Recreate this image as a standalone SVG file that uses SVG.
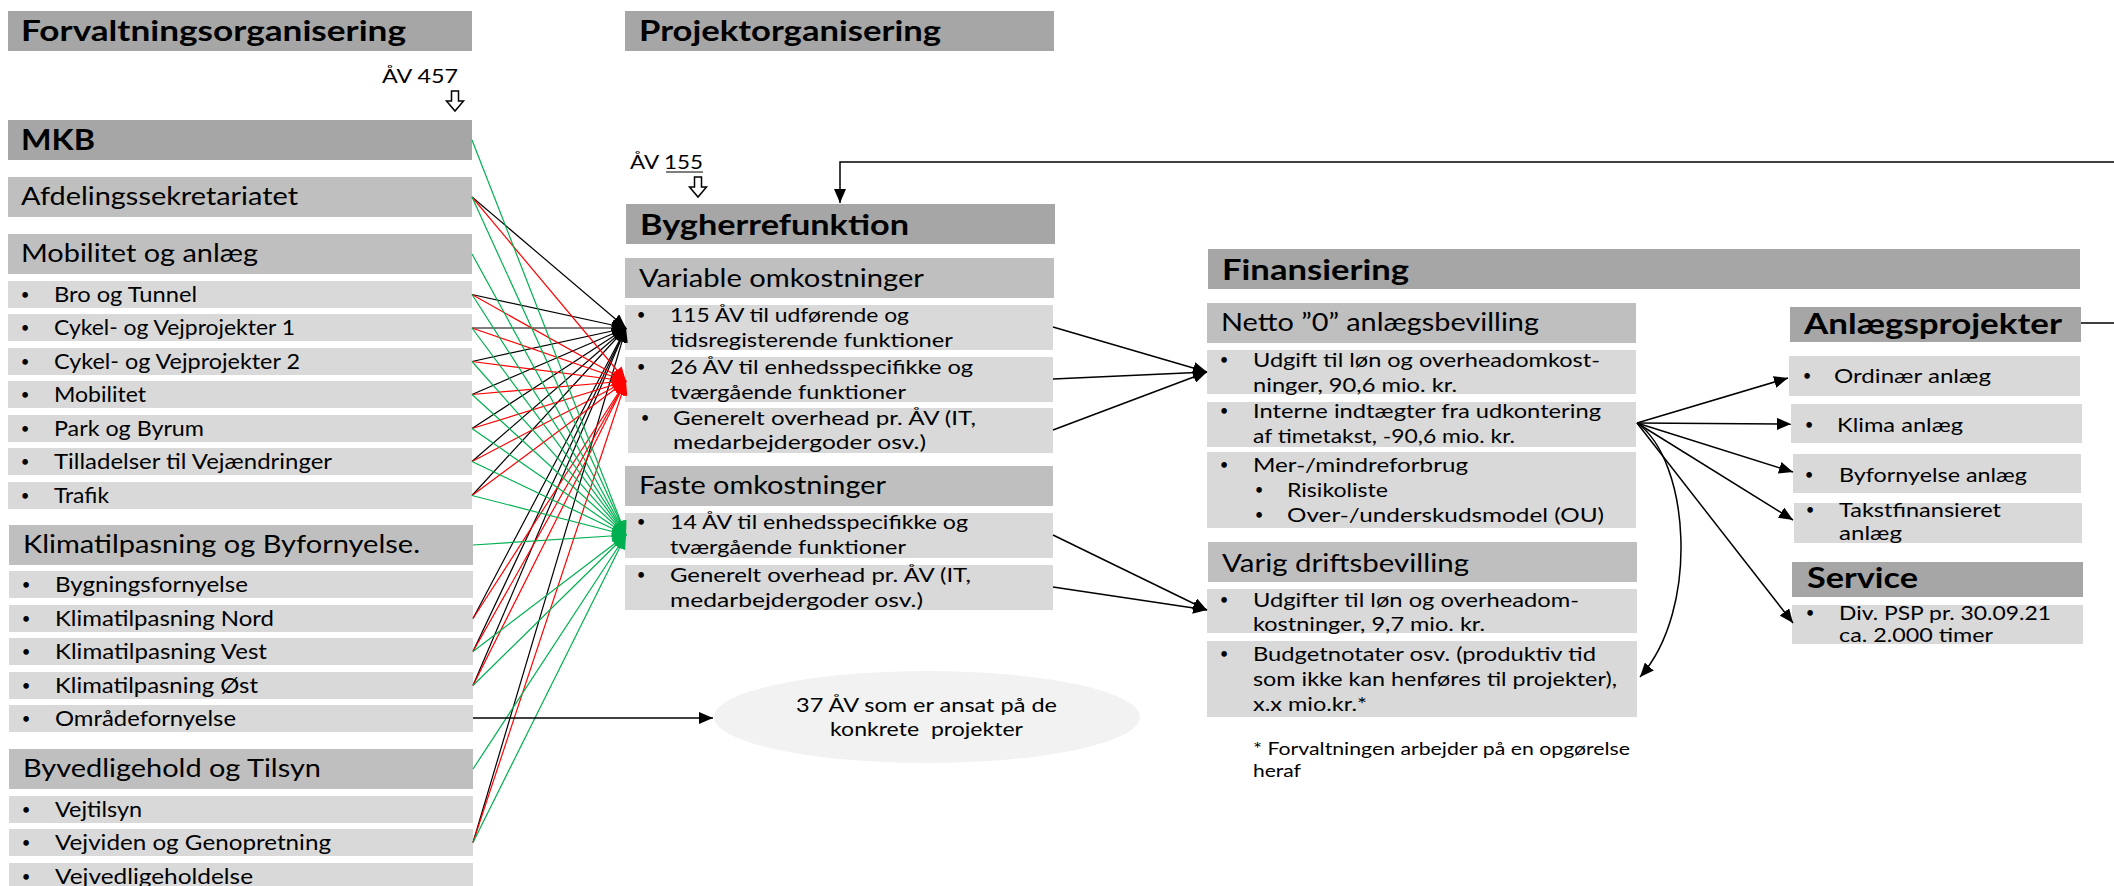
<svg xmlns="http://www.w3.org/2000/svg" width="2114" height="886" viewBox="0 0 2114 886">
<defs>
<style>
text{font-family:Lato,"Liberation Sans",sans-serif;fill:#000}
.h1{font-size:28px;font-weight:bold}
.h2{font-size:25px}
.it{font-size:21px}
.im{font-size:20px}
.sm{font-size:17px}
.b{font-size:15px;text-anchor:middle}
.d{fill:#a6a6a6}
.m{fill:#bfbfbf}
.l{fill:#d9d9d9}
.k{stroke:#000;stroke-width:1.2;fill:none}
.r{stroke:#ff0000;stroke-width:1.2;fill:none}
.g{stroke:#00b050;stroke-width:1.2;fill:none}
.c{stroke:#000;stroke-width:1.5;fill:none}
.ha{fill:#fff;stroke:#000;stroke-width:1.5}
</style>
<marker id="ak" viewBox="0 0 14 12" refX="14" refY="6" markerWidth="14" markerHeight="12" markerUnits="userSpaceOnUse" orient="auto"><path d="M0,0 L14,6 L0,12 z" fill="#000"/></marker>
<marker id="ar" viewBox="0 0 14 12" refX="14" refY="6" markerWidth="14" markerHeight="12" markerUnits="userSpaceOnUse" orient="auto"><path d="M0,0 L14,6 L0,12 z" fill="#ff0000"/></marker>
<marker id="ag" viewBox="0 0 14 12" refX="14" refY="6" markerWidth="14" markerHeight="12" markerUnits="userSpaceOnUse" orient="auto"><path d="M0,0 L14,6 L0,12 z" fill="#00b050"/></marker>
</defs>
<rect width="2114" height="886" fill="#fff"/>

<!-- Left column -->
<g id="forvaltning-header"><rect class="d" x="8" y="11" width="464" height="40"/><text class="h1" x="21" y="41" textLength="385" lengthAdjust="spacingAndGlyphs">Forvaltningsorganisering</text></g>
<g id="av457"><text class="im" x="382" y="83" textLength="76" lengthAdjust="spacingAndGlyphs">ÅV 457</text><path class="ha" d="M451.5,91 H458.5 V101 H463.5 L455,111 L446.5,101 H451.5 Z"/></g>
<g id="mkb"><rect class="d" x="8" y="120" width="464" height="40"/><text class="h1" x="21" y="150" textLength="74" lengthAdjust="spacingAndGlyphs">MKB</text></g>
<g id="afdeling"><rect class="m" x="8" y="177" width="464" height="40"/><text class="h2" x="21" y="205" textLength="277" lengthAdjust="spacingAndGlyphs">Afdelingssekretariatet</text></g>
<g id="mobilitet-anlaeg"><rect class="m" x="8" y="234" width="464" height="40"/><text class="h2" x="21" y="262" textLength="237" lengthAdjust="spacingAndGlyphs">Mobilitet og anlæg</text></g>
<g id="bro"><rect class="l" x="8" y="281" width="464" height="27"/><text class="b" x="25" y="300">•</text><text class="it" x="54" y="302" textLength="143" lengthAdjust="spacingAndGlyphs">Bro og Tunnel</text></g>
<g id="cykel1"><rect class="l" x="8" y="314" width="464" height="27"/><text class="b" x="25" y="333">•</text><text class="it" x="54" y="335" textLength="241" lengthAdjust="spacingAndGlyphs">Cykel- og Vejprojekter 1</text></g>
<g id="cykel2"><rect class="l" x="8" y="348" width="464" height="27"/><text class="b" x="25" y="367">•</text><text class="it" x="54" y="369" textLength="246" lengthAdjust="spacingAndGlyphs">Cykel- og Vejprojekter 2</text></g>
<g id="mobilitet"><rect class="l" x="8" y="381" width="464" height="27"/><text class="b" x="25" y="400">•</text><text class="it" x="54" y="402" textLength="92" lengthAdjust="spacingAndGlyphs">Mobilitet</text></g>
<g id="park"><rect class="l" x="8" y="415" width="464" height="27"/><text class="b" x="25" y="434">•</text><text class="it" x="54" y="436" textLength="150" lengthAdjust="spacingAndGlyphs">Park og Byrum</text></g>
<g id="tilladelser"><rect class="l" x="8" y="448" width="464" height="27"/><text class="b" x="25" y="467">•</text><text class="it" x="54" y="469" textLength="278" lengthAdjust="spacingAndGlyphs">Tilladelser til Vejændringer</text></g>
<g id="trafik"><rect class="l" x="8" y="482" width="464" height="27"/><text class="b" x="25" y="501">•</text><text class="it" x="54" y="503" textLength="55" lengthAdjust="spacingAndGlyphs">Trafik</text></g>
<g id="klima-header"><rect class="m" x="9" y="525" width="464" height="40"/><text class="h2" x="23" y="553" textLength="397" lengthAdjust="spacingAndGlyphs">Klimatilpasning og Byfornyelse.</text></g>
<g id="bygning"><rect class="l" x="9" y="571" width="464" height="27"/><text class="b" x="26" y="590">•</text><text class="it" x="55" y="592" textLength="193" lengthAdjust="spacingAndGlyphs">Bygningsfornyelse</text></g>
<g id="klim-nord"><rect class="l" x="9" y="605" width="464" height="27"/><text class="b" x="26" y="624">•</text><text class="it" x="55" y="626" textLength="219" lengthAdjust="spacingAndGlyphs">Klimatilpasning Nord</text></g>
<g id="klim-vest"><rect class="l" x="9" y="638" width="464" height="27"/><text class="b" x="26" y="657">•</text><text class="it" x="55" y="659" textLength="212" lengthAdjust="spacingAndGlyphs">Klimatilpasning Vest</text></g>
<g id="klim-oest"><rect class="l" x="9" y="672" width="464" height="27"/><text class="b" x="26" y="691">•</text><text class="it" x="55" y="693" textLength="203" lengthAdjust="spacingAndGlyphs">Klimatilpasning Øst</text></g>
<g id="omraade"><rect class="l" x="9" y="705" width="464" height="27"/><text class="b" x="26" y="724">•</text><text class="it" x="55" y="726" textLength="181" lengthAdjust="spacingAndGlyphs">Områdefornyelse</text></g>
<g id="byvedligehold-header"><rect class="m" x="9" y="749" width="464" height="40"/><text class="h2" x="23" y="777" textLength="298" lengthAdjust="spacingAndGlyphs">Byvedligehold og Tilsyn</text></g>
<g id="vejtilsyn"><rect class="l" x="9" y="796" width="464" height="27"/><text class="b" x="26" y="815">•</text><text class="it" x="55" y="817" textLength="87" lengthAdjust="spacingAndGlyphs">Vejtilsyn</text></g>
<g id="vejviden"><rect class="l" x="9" y="829" width="464" height="27"/><text class="b" x="26" y="848">•</text><text class="it" x="55" y="850" textLength="276" lengthAdjust="spacingAndGlyphs">Vejviden og Genopretning</text></g>
<g id="vejvedligehold"><rect class="l" x="9" y="863" width="464" height="27"/><text class="b" x="26" y="882">•</text><text class="it" x="55" y="884" textLength="198" lengthAdjust="spacingAndGlyphs">Vejvedligeholdelse</text></g>

<!-- Middle column -->
<g id="projekt-header"><rect class="d" x="625" y="11" width="429" height="40"/><text class="h1" x="639" y="41" textLength="302" lengthAdjust="spacingAndGlyphs">Projektorganisering</text></g>
<g id="av155"><text class="im" x="630" y="169" textLength="73" lengthAdjust="spacingAndGlyphs">ÅV 155</text><line x1="666" y1="172" x2="703" y2="172" stroke="#000" stroke-width="1.2"/><path class="ha" d="M694.5,177 H701.5 V187 H706.5 L698,197 L689.5,187 H694.5 Z"/></g>
<g id="bygherre"><rect class="d" x="626" y="204" width="429" height="40"/><text class="h1" x="640" y="235" textLength="269" lengthAdjust="spacingAndGlyphs">Bygherrefunktion</text></g>
<g id="variable"><rect class="m" x="625" y="258" width="429" height="40"/><text class="h2" x="639" y="287" textLength="285" lengthAdjust="spacingAndGlyphs">Variable omkostninger</text></g>
<g id="v115"><rect class="l" x="625" y="305" width="428" height="45"/><text class="b" x="641" y="320">•</text><text class="im" x="670" y="322" textLength="239" lengthAdjust="spacingAndGlyphs">115 ÅV til udførende og</text><text class="im" x="670" y="347" textLength="283" lengthAdjust="spacingAndGlyphs">tidsregisterende funktioner</text></g>
<g id="v26"><rect class="l" x="625" y="357" width="428" height="45"/><text class="b" x="641" y="372">•</text><text class="im" x="670" y="374" textLength="303" lengthAdjust="spacingAndGlyphs">26 ÅV til enhedsspecifikke og</text><text class="im" x="670" y="399" textLength="236" lengthAdjust="spacingAndGlyphs">tværgående funktioner</text></g>
<g id="v-overhead"><rect class="l" x="628" y="408" width="425" height="45"/><text class="b" x="645" y="423">•</text><text class="im" x="673" y="425" textLength="303" lengthAdjust="spacingAndGlyphs">Generelt overhead pr. ÅV (IT,</text><text class="im" x="673" y="449" textLength="253" lengthAdjust="spacingAndGlyphs">medarbejdergoder osv.)</text></g>
<g id="faste"><rect class="m" x="625" y="466" width="428" height="40"/><text class="h2" x="639" y="494" textLength="247" lengthAdjust="spacingAndGlyphs">Faste omkostninger</text></g>
<g id="f14"><rect class="l" x="625" y="513" width="428" height="45"/><text class="b" x="641" y="527">•</text><text class="im" x="670" y="529" textLength="298" lengthAdjust="spacingAndGlyphs">14 ÅV til enhedsspecifikke og</text><text class="im" x="670" y="554" textLength="236" lengthAdjust="spacingAndGlyphs">tværgående funktioner</text></g>
<g id="f-overhead"><rect class="l" x="625" y="565" width="428" height="45"/><text class="b" x="641" y="580">•</text><text class="im" x="670" y="582" textLength="301" lengthAdjust="spacingAndGlyphs">Generelt overhead pr. ÅV (IT,</text><text class="im" x="670" y="607" textLength="253" lengthAdjust="spacingAndGlyphs">medarbejdergoder osv.)</text></g>
<g id="projekter37"><ellipse cx="927" cy="717" rx="213" ry="46" fill="#f2f2f2"/><text class="im" x="796" y="712" textLength="261" lengthAdjust="spacingAndGlyphs">37 ÅV som er ansat på de</text><text class="im" x="830" y="736" textLength="193" lengthAdjust="spacingAndGlyphs" xml:space="preserve">konkrete  projekter</text></g>

<!-- Finansiering -->
<g id="finansiering"><rect class="d" x="1208" y="249" width="872" height="40"/><text class="h1" x="1222" y="280" textLength="187" lengthAdjust="spacingAndGlyphs">Finansiering</text></g>
<g id="netto"><rect class="m" x="1207" y="303" width="429" height="40"/><text class="h2" x="1221" y="331" textLength="318" lengthAdjust="spacingAndGlyphs">Netto ”0” anlægsbevilling</text></g>
<g id="udgift"><rect class="l" x="1207" y="350" width="429" height="44"/><text class="b" x="1224" y="365">•</text><text class="im" x="1253" y="367" textLength="347" lengthAdjust="spacingAndGlyphs">Udgift til løn og overheadomkost-</text><text class="im" x="1253" y="392" textLength="204" lengthAdjust="spacingAndGlyphs">ninger, 90,6 mio. kr.</text></g>
<g id="interne"><rect class="l" x="1207" y="402" width="429" height="45"/><text class="b" x="1224" y="416">•</text><text class="im" x="1253" y="418" textLength="348" lengthAdjust="spacingAndGlyphs">Interne indtægter fra udkontering</text><text class="im" x="1253" y="443" textLength="262" lengthAdjust="spacingAndGlyphs">af timetakst, -90,6 mio. kr.</text></g>
<g id="merforbrug"><rect class="l" x="1207" y="452" width="429" height="76"/><text class="b" x="1224" y="470">•</text><text class="im" x="1253" y="472" textLength="215" lengthAdjust="spacingAndGlyphs">Mer-/mindreforbrug</text><text class="b" x="1259" y="495">•</text><text class="im" x="1287" y="497" textLength="101" lengthAdjust="spacingAndGlyphs">Risikoliste</text><text class="b" x="1259" y="520">•</text><text class="im" x="1287" y="522" textLength="317" lengthAdjust="spacingAndGlyphs">Over-/underskudsmodel (OU)</text></g>
<g id="varig"><rect class="m" x="1208" y="542" width="429" height="40"/><text class="h2" x="1222" y="572" textLength="247" lengthAdjust="spacingAndGlyphs">Varig driftsbevilling</text></g>
<g id="udgifter"><rect class="l" x="1207" y="589" width="430" height="44"/><text class="b" x="1224" y="605">•</text><text class="im" x="1253" y="607" textLength="326" lengthAdjust="spacingAndGlyphs">Udgifter til løn og overheadom-</text><text class="im" x="1253" y="631" textLength="232" lengthAdjust="spacingAndGlyphs">kostninger, 9,7 mio. kr.</text></g>
<g id="budget"><rect class="l" x="1207" y="641" width="430" height="76"/><text class="b" x="1224" y="659">•</text><text class="im" x="1253" y="661" textLength="343" lengthAdjust="spacingAndGlyphs">Budgetnotater osv. (produktiv tid</text><text class="im" x="1253" y="686" textLength="364" lengthAdjust="spacingAndGlyphs">som ikke kan henføres til projekter),</text><text class="im" x="1253" y="711" textLength="114" lengthAdjust="spacingAndGlyphs">x.x mio.kr.*</text></g>
<g id="footnote"><text class="sm" x="1253" y="755" textLength="377" lengthAdjust="spacingAndGlyphs">* Forvaltningen arbejder på en opgørelse</text><text class="sm" x="1253" y="777" textLength="48" lengthAdjust="spacingAndGlyphs">heraf</text></g>

<!-- Right column -->
<g id="anlaegsprojekter"><rect class="d" x="1790" y="307" width="291" height="35"/><text class="h1" x="1804" y="334" textLength="258" lengthAdjust="spacingAndGlyphs">Anlægsprojekter</text></g>
<g id="ordinaer"><rect class="l" x="1789" y="356" width="291" height="40"/><text class="b" x="1807" y="381">•</text><text class="im" x="1834" y="383" textLength="157" lengthAdjust="spacingAndGlyphs">Ordinær anlæg</text></g>
<g id="klima-anlaeg"><rect class="l" x="1791" y="404" width="291" height="39"/><text class="b" x="1809" y="430">•</text><text class="im" x="1837" y="432" textLength="126" lengthAdjust="spacingAndGlyphs">Klima anlæg</text></g>
<g id="byfornyelse-anlaeg"><rect class="l" x="1793" y="454" width="288" height="39"/><text class="b" x="1809" y="480">•</text><text class="im" x="1839" y="482" textLength="188" lengthAdjust="spacingAndGlyphs">Byfornyelse anlæg</text></g>
<g id="takst"><rect class="l" x="1794" y="503" width="288" height="40"/><text class="b" x="1810" y="515">•</text><text class="im" x="1839" y="517" textLength="162" lengthAdjust="spacingAndGlyphs">Takstfinansieret</text><text class="im" x="1839" y="540" textLength="63" lengthAdjust="spacingAndGlyphs">anlæg</text></g>
<g id="service"><rect class="d" x="1792" y="562" width="291" height="35"/><text class="h1" x="1807" y="588" textLength="111" lengthAdjust="spacingAndGlyphs">Service</text></g>
<g id="psp"><rect class="l" x="1792" y="605" width="291" height="39"/><text class="b" x="1810" y="618">•</text><text class="im" x="1839" y="620" textLength="212" lengthAdjust="spacingAndGlyphs">Div. PSP pr. 30.09.21</text><text class="im" x="1839" y="642" textLength="154" lengthAdjust="spacingAndGlyphs">ca. 2.000 timer</text></g>

<!-- Connectors -->
<g id="connectors">
<line class="k" marker-end="url(#ak)" x1="472" y1="197" x2="626" y2="328"/>
<line class="k" marker-end="url(#ak)" x1="472" y1="294.5" x2="626" y2="328"/>
<line class="k" marker-end="url(#ak)" x1="472" y1="328" x2="626" y2="328"/>
<line class="k" marker-end="url(#ak)" x1="472" y1="361.5" x2="626" y2="328"/>
<line class="k" marker-end="url(#ak)" x1="472" y1="394.5" x2="626" y2="328"/>
<line class="k" marker-end="url(#ak)" x1="472" y1="428.5" x2="626" y2="328"/>
<line class="k" marker-end="url(#ak)" x1="472" y1="461.5" x2="626" y2="328"/>
<line class="k" marker-end="url(#ak)" x1="472" y1="495.5" x2="626" y2="328"/>
<line class="k" marker-end="url(#ak)" x1="473" y1="618.5" x2="626" y2="328"/>
<line class="k" marker-end="url(#ak)" x1="473" y1="651.5" x2="626" y2="328"/>
<line class="k" marker-end="url(#ak)" x1="473" y1="685.5" x2="626" y2="328"/>
<line class="k" marker-end="url(#ak)" x1="473" y1="842.5" x2="626" y2="328"/>
<line class="r" marker-end="url(#ar)" x1="472" y1="197" x2="626" y2="381"/>
<line class="r" marker-end="url(#ar)" x1="472" y1="294.5" x2="626" y2="381"/>
<line class="r" marker-end="url(#ar)" x1="472" y1="328" x2="626" y2="381"/>
<line class="r" marker-end="url(#ar)" x1="472" y1="361.5" x2="626" y2="381"/>
<line class="r" marker-end="url(#ar)" x1="472" y1="394.5" x2="626" y2="381"/>
<line class="r" marker-end="url(#ar)" x1="472" y1="428.5" x2="626" y2="381"/>
<line class="r" marker-end="url(#ar)" x1="472" y1="461.5" x2="626" y2="381"/>
<line class="r" marker-end="url(#ar)" x1="472" y1="495.5" x2="626" y2="381"/>
<line class="r" marker-end="url(#ar)" x1="473" y1="618.5" x2="626" y2="381"/>
<line class="r" marker-end="url(#ar)" x1="473" y1="651.5" x2="626" y2="381"/>
<line class="r" marker-end="url(#ar)" x1="473" y1="685.5" x2="626" y2="381"/>
<line class="r" marker-end="url(#ar)" x1="473" y1="842.5" x2="626" y2="381"/>
<line class="g" marker-end="url(#ag)" x1="472" y1="140" x2="626" y2="535"/>
<line class="g" marker-end="url(#ag)" x1="472" y1="197" x2="626" y2="535"/>
<line class="g" marker-end="url(#ag)" x1="472" y1="254" x2="626" y2="535"/>
<line class="g" marker-end="url(#ag)" x1="472" y1="294.5" x2="626" y2="535"/>
<line class="g" marker-end="url(#ag)" x1="472" y1="328" x2="626" y2="535"/>
<line class="g" marker-end="url(#ag)" x1="472" y1="361.5" x2="626" y2="535"/>
<line class="g" marker-end="url(#ag)" x1="472" y1="394.5" x2="626" y2="535"/>
<line class="g" marker-end="url(#ag)" x1="472" y1="428.5" x2="626" y2="535"/>
<line class="g" marker-end="url(#ag)" x1="472" y1="461.5" x2="626" y2="535"/>
<line class="g" marker-end="url(#ag)" x1="472" y1="495.5" x2="626" y2="535"/>
<line class="g" marker-end="url(#ag)" x1="473" y1="545" x2="626" y2="535"/>
<line class="g" marker-end="url(#ag)" x1="473" y1="651.5" x2="626" y2="535"/>
<line class="g" marker-end="url(#ag)" x1="473" y1="685.5" x2="626" y2="535"/>
<line class="g" marker-end="url(#ag)" x1="473" y1="769" x2="626" y2="535"/>
<line class="g" marker-end="url(#ag)" x1="473" y1="842.5" x2="626" y2="535"/>
<line class="c" marker-end="url(#ak)" x1="473" y1="718" x2="713" y2="718"/>
<line class="c" marker-end="url(#ak)" x1="1053" y1="327" x2="1207" y2="372"/>
<line class="c" marker-end="url(#ak)" x1="1053" y1="379" x2="1207" y2="372"/>
<line class="c" marker-end="url(#ak)" x1="1053" y1="430" x2="1207" y2="372"/>
<line class="c" marker-end="url(#ak)" x1="1053" y1="535" x2="1207" y2="610"/>
<line class="c" marker-end="url(#ak)" x1="1053" y1="587" x2="1207" y2="610"/>
<line class="c" marker-end="url(#ak)" x1="1637" y1="423" x2="1788" y2="378"/>
<line class="c" marker-end="url(#ak)" x1="1637" y1="423" x2="1791" y2="424"/>
<line class="c" marker-end="url(#ak)" x1="1637" y1="423" x2="1793" y2="472"/>
<line class="c" marker-end="url(#ak)" x1="1637" y1="423" x2="1793" y2="520"/>
<line class="c" marker-end="url(#ak)" x1="1637" y1="423" x2="1793" y2="623"/>
<path class="c" marker-end="url(#ak)" d="M1637,423 C1690,460 1700,610 1640,677"/>
<path class="c" marker-end="url(#ak)" d="M2081,323 H2140 V162 H840 V203"/>
</g>
</svg>
